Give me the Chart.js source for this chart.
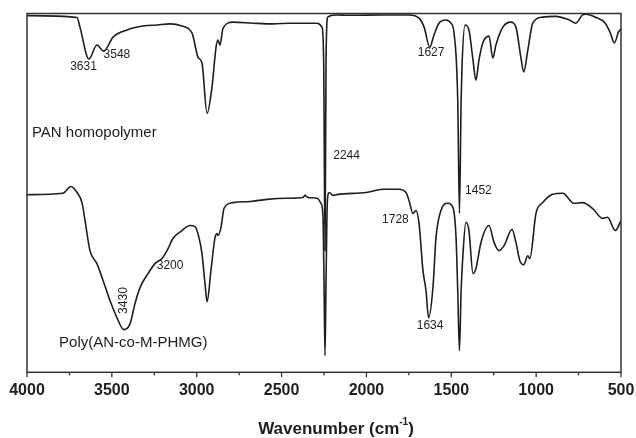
<!DOCTYPE html>
<html>
<head>
<meta charset="utf-8">
<title>FTIR spectra</title>
<script src="https://cdn.jsdelivr.net/npm/chart.js@4.4.1/dist/chart.umd.min.js"></script>
<style>
  html, body { margin: 0; padding: 0; background: #fff; }
  #wrap { width: 636px; height: 438px; }
</style>
</head>
<body>
<div id="wrap"><canvas id="ftirChart" width="636" height="438"></canvas></div>
<script>
/* ==========================================
   DATA (wavenumber in cm-1, transmittance in a.u.)
========================================== */

const panWavenumber = [
  4000, 3705, 3688, 3635, 3588, 3548, 3493, 3411, 3316, 3234, 3157, 3087, 3028,
  2992, 2969, 2939, 2910, 2886, 2875, 2863, 2845, 2786, 2668, 2550, 2450, 2291,
  2262, 2252, 2244, 2238, 2228, 2180, 2103, 1902, 1749, 1690, 1660, 1627, 1602,
  1573, 1532, 1502, 1484, 1462, 1452, 1442, 1437, 1419, 1396, 1372, 1355, 1337,
  1313, 1278, 1255, 1237, 1196, 1149, 1119, 1090, 1073, 1049, 1020, 961, 885,
  806, 766, 727, 706, 652, 593, 563, 539, 515, 500
];

const panTransmittance = [
  99.4, 98.9, 96.2, 87.3, 91.2, 89.5, 93.4, 95.4, 96.5, 96.8, 97.1, 96.5, 94.6,
  87.8, 86.2, 72.2, 79.5, 90.6, 92.6, 91.2, 95.9, 97.6, 97.3, 97.1, 97.3, 97.3,
  96.2, 87.0, 33.9, 87.0, 99.0, 99.6, 99.5, 99.6, 99.6, 98.7, 96.2, 90.6, 94.0,
  97.3, 98.2, 97.3, 94.6, 75.8, 44.3, 75.8, 85.1, 96.8, 95.4, 87.0, 81.4, 87.0,
  92.0, 93.7, 87.6, 91.2, 96.2, 97.6, 96.2, 87.8, 83.7, 89.8, 97.3, 99.0, 99.2,
  98.2, 97.3, 99.6, 99.8, 99.0, 97.3, 94.6, 91.8, 94.8, 95.7
];

const copolyWavenumber = [
  4000, 3788, 3741, 3705, 3676, 3658, 3629, 3588, 3552, 3511, 3470, 3430, 3393,
  3364, 3334, 3287, 3246, 3205, 3175, 3140, 3087, 3040, 3010, 2987, 2969, 2951,
  2939, 2916, 2892, 2880, 2875, 2857, 2839, 2786, 2686, 2586, 2468, 2374, 2362,
  2344, 2291, 2268, 2256, 2250, 2244, 2238, 2230, 2219, 2197, 2167, 2002, 1902,
  1808, 1767, 1749, 1726, 1708, 1690, 1667, 1649, 1634, 1608, 1590, 1561, 1519,
  1490, 1472, 1462, 1452, 1442, 1431, 1414, 1396, 1372, 1355, 1325, 1278, 1248,
  1219, 1189, 1142, 1119, 1096, 1073, 1049, 1037, 1001, 961, 902, 843, 778,
  727, 668, 609, 580, 533, 500
];

const copolyTransmittance = [
  49.5, 49.9, 51.8, 50.1, 47.3, 42.3, 33.9, 30.3, 25.6, 20.0, 15.2, 11.9, 13.5,
  19.1, 23.6, 27.5, 30.3, 31.7, 33.9, 37.3, 39.5, 40.9, 40.6, 37.6, 33.1, 24.7,
  19.7, 28.4, 37.6, 38.7, 38.1, 40.4, 45.7, 47.3, 47.6, 48.2, 48.5, 48.7, 49.3,
  48.7, 48.5, 47.1, 43.7, 25.6, 4.6, 25.6, 47.9, 50.1, 49.3, 49.6, 50.1, 51.0,
  51.0, 50.1, 47.9, 44.3, 45.1, 41.5, 28.4, 22.8, 15.2, 23.6, 37.6, 45.1, 47.1,
  45.9, 37.6, 22.8, 6.0, 22.8, 33.1, 41.8, 39.5, 27.5, 28.9, 36.2, 40.9, 36.2,
  33.9, 35.3, 39.8, 36.2, 31.1, 30.0, 32.5, 31.7, 44.3, 47.3, 49.6, 49.9, 47.1,
  47.3, 45.7, 42.9, 43.2, 39.5, 42.3
];

const xTickValues = [4000, 3500, 3000, 2500, 2000, 1500, 1000, 500];
const xMinorTicks = [3750, 3250, 2750, 2250, 1750, 1250, 750];

/* peak labels: text, anchor wavenumber, anchor transmittance */
const peakLabels = [
  { text: "3631", wn: 3667, t: 85.1 },
  { text: "3548", wn: 3470, t: 88.4 },
  { text: "1627", wn: 1619, t: 89.0 },
  { text: "2244", wn: 2117, t: 60.5 },
  { text: "1452", wn: 1340, t: 50.7 },
  { text: "1728", wn: 1829, t: 42.6 },
  { text: "1634", wn: 1625, t: 13.0 },
  { text: "3200", wn: 3157, t: 29.7 },
  { text: "3430", wn: 3428, t: 20.0, rotate: true }
];

const seriesNames = [
  { text: "PAN homopolymer", wn: 3971, t: 66.6 },
  { text: "Poly(AN-co-M-PHMG)", wn: 3811, t: 8.2 }
];

const toPoints = (xs, ys) => xs.map((x, i) => ({ x: x, y: ys[i] }));

const INK = "#1e1e1e";
const FONT = "'Liberation Sans', Arial, Helvetica, sans-serif";

/* ==========================================
   FRAME, TICKS, LABELS
========================================== */

const framePlugin = {
  id: "frame",
  afterDraw(chart) {
    const { ctx, chartArea: a, scales } = chart;
    const xs = scales.x;
    const ys = scales.y;

    ctx.save();
    ctx.strokeStyle = "#333";
    ctx.lineWidth = 1.5;
    ctx.strokeRect(a.left, a.top, a.right - a.left, a.bottom - a.top);

    // ticks below the axis
    ctx.lineWidth = 1.3;
    xTickValues.forEach((v) => {
      const px = xs.getPixelForValue(v);
      ctx.beginPath();
      ctx.moveTo(px, a.bottom);
      ctx.lineTo(px, a.bottom + 5);
      ctx.stroke();
    });
    xMinorTicks.forEach((v) => {
      const px = xs.getPixelForValue(v);
      ctx.beginPath();
      ctx.moveTo(px, a.bottom);
      ctx.lineTo(px, a.bottom + 3);
      ctx.stroke();
    });

    // peak labels
    ctx.fillStyle = INK;
    ctx.textAlign = "center";
    ctx.textBaseline = "middle";
    ctx.font = "12px " + FONT;
    peakLabels.forEach((p) => {
      const px = xs.getPixelForValue(p.wn);
      const py = ys.getPixelForValue(p.t);
      if (p.rotate) {
        ctx.save();
        ctx.translate(px, py);
        ctx.rotate(-Math.PI / 2);
        ctx.fillText(p.text, 0, 0);
        ctx.restore();
      } else {
        ctx.fillText(p.text, px, py);
      }
    });

    // sample names
    ctx.textAlign = "left";
    ctx.font = "15px " + FONT;
    seriesNames.forEach((s) => {
      ctx.fillText(s.text, xs.getPixelForValue(s.wn), ys.getPixelForValue(s.t));
    });

    // axis title with superscript
    const main = "Wavenumber (cm";
    const sup = "-1";
    const tail = ")";
    ctx.font = "bold 17px " + FONT;
    const wMain = ctx.measureText(main).width;
    const wTail = ctx.measureText(tail).width;
    ctx.font = "bold 10px " + FONT;
    const wSup = ctx.measureText(sup).width;
    const total = wMain + wSup + wTail;
    let tx = (a.left + a.right) / 2 + 12 - total / 2;
    const ty = 429;
    ctx.textAlign = "left";
    ctx.font = "bold 17px " + FONT;
    ctx.fillText(main, tx, ty);
    tx += wMain;
    ctx.font = "bold 10px " + FONT;
    ctx.fillText(sup, tx, ty - 7);
    tx += wSup;
    ctx.font = "bold 17px " + FONT;
    ctx.fillText(tail, tx, ty);
    ctx.restore();
  }
};

/* ==========================================
   CHART
========================================== */

new Chart(
  document.getElementById("ftirChart"),
  {
    type: "line",

    data: {
      datasets: [
        {
          label: "PAN homopolymer",
          data: toPoints(panWavenumber, panTransmittance)
        },
        {
          label: "Poly(AN-co-M-PHMG)",
          data: toPoints(copolyWavenumber, copolyTransmittance)
        }
      ]
    },

    options: {
      responsive: false,
      animation: false,
      events: [],

      layout: {
        padding: { left: 27, right: 15, top: 13.5, bottom: 28.5 }
      },

      elements: {
        line: {
          borderColor: INK,
          borderWidth: 1.6,
          tension: 0,
          cubicInterpolationMode: "monotone",
          fill: false
        },
        point: { radius: 0 }
      },

      scales: {
        x: {
          type: "linear",
          reverse: true,
          min: 500,
          max: 4000,
          border: { display: false },
          grid: { display: false, drawTicks: false },
          afterBuildTicks: (scale) => {
            scale.ticks = xTickValues.map((v) => ({ value: v }));
          },
          afterFit: (scale) => {
            // labels may overhang the frame, as in the original figure
            scale.paddingLeft = 0;
            scale.paddingRight = 0;
          },
          ticks: {
            autoSkip: false,
            maxRotation: 0,
            padding: 9,
            color: INK,
            font: { family: FONT, size: 16, weight: "bold" },
            callback: (v) => String(v)
          }
        },
        y: {
          display: false,
          min: 0,
          max: 100
        }
      },

      plugins: {
        legend: { display: false },
        tooltip: { enabled: false }
      }
    },

    plugins: [framePlugin]
  }
);
</script>
</body>
</html>
